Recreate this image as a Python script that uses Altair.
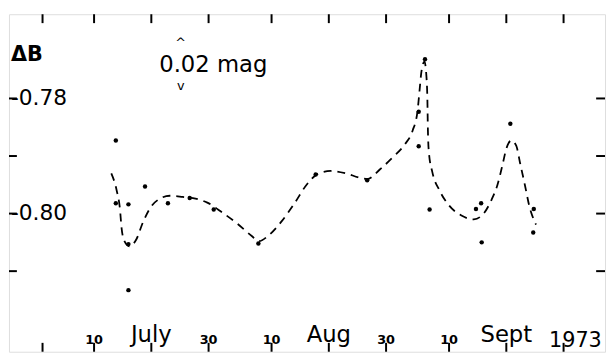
import altair as alt
import pandas as pd

# Observations: day counted from 30 June 1973 (1 July = 1), Delta B magnitude
obs_day = [13.8, 13.8, 16.0, 18.9, 16.0, 16.0, 22.9, 26.7, 30.9, 38.7, 48.7, 57.7,
           67.8, 66.7, 66.7, 68.6, 76.7, 77.6, 77.7, 82.7, 86.8, 86.7]
obs_db = [-0.7873, -0.7982, -0.7984, -0.7953, -0.8053, -0.8133, -0.7982, -0.7973,
          -0.7993, -0.8052, -0.7932, -0.7942, -0.7732, -0.7823, -0.7883, -0.7993,
          -0.7992, -0.7982, -0.8050, -0.7844, -0.7992, -0.8033]

# Hand-drawn dashed curve
curve_day = [13.01, 13.93, 14.53, 14.79, 15.31, 16.17, 17.37, 18.58, 19.96, 21.51,
             23.23, 25.47, 27.71, 29.78, 32.37, 34.95, 37.54, 38.75, 40.47, 42.71,
             44.95, 47.19, 49.09, 51.33, 53.91, 56.50, 57.70, 59.95, 62.19, 64.25,
             65.63, 66.49, 66.84, 67.18, 67.70, 68.05, 68.22, 68.30, 68.48, 69.08,
             70.29, 72.01, 74.08, 76.32, 78.04, 79.42, 80.46, 81.32, 82.01, 82.87,
             83.73, 84.42, 85.28, 85.97, 87.18]
curve_db = [-0.7930, -0.7959, -0.7993, -0.8024, -0.8048, -0.8057, -0.8045, -0.8014,
            -0.7988, -0.7974, -0.7969, -0.7971, -0.7974, -0.7981, -0.7998, -0.8017,
            -0.8039, -0.8048, -0.8038, -0.8014, -0.7983, -0.7949, -0.7931, -0.7926,
            -0.7930, -0.7938, -0.7940, -0.7923, -0.7902, -0.7880, -0.7856, -0.7822,
            -0.7787, -0.7753, -0.7736, -0.7762, -0.7805, -0.7853, -0.7894, -0.7928,
            -0.7959, -0.7986, -0.8003, -0.8010, -0.8000, -0.7976, -0.7950, -0.7916,
            -0.7887, -0.7873, -0.7882, -0.7913, -0.7952, -0.7985, -0.8019]

x_ticks = [1, 10, 20, 30, 41, 51, 61, 72, 82, 92]
y_ticks = [-0.81, -0.80, -0.79, -0.78]

x_label_day = [10, 20, 30, 41, 51, 61, 72, 82]
x_label_text = ["10", "July", "30", "10", "Aug", "30", "10", "Sept"]
x_label_big = [False, True, False, False, True, False, False, True]

y_label_val = [-0.78, -0.80]
y_label_text = ["-0.78", "-0.80"]

FONT = "DejaVu Sans"
W, H = 604, 342

xs = alt.Scale(domain=[-4.86, 99.24], nice=False, zero=False)
ys = alt.Scale(domain=[-0.8240, -0.76537], nice=False, zero=False)

obs = pd.DataFrame({"day": obs_day, "db": obs_db})
curve = pd.DataFrame({"day": curve_day, "db": curve_db, "order": list(range(len(curve_day)))})
xt = pd.DataFrame({"day": x_ticks})
yt = pd.DataFrame({"db": y_ticks})
xl = pd.DataFrame({"day": x_label_day, "text": x_label_text, "big": x_label_big})
yl = pd.DataFrame({"db": y_label_val, "text": y_label_text})

X = lambda: alt.X("day:Q", scale=xs, axis=None)
Y = lambda: alt.Y("db:Q", scale=ys, axis=None)

line = alt.Chart(curve).mark_line(
    color="black", strokeWidth=1.8, strokeDash=[8, 6], interpolate="monotone"
).encode(x=X(), y=Y(), order="order:Q")

pts = alt.Chart(obs).mark_circle(color="black", opacity=1, size=20).encode(x=X(), y=Y())

tick_top = alt.Chart(xt).mark_rule(color="black", strokeWidth=2).encode(
    x=X(), y=alt.value(0), y2=alt.value(9))
tick_bot = alt.Chart(xt).mark_rule(color="black", strokeWidth=2).encode(
    x=X(), y=alt.value(H - 9), y2=alt.value(H))
tick_left = alt.Chart(yt).mark_rule(color="black", strokeWidth=2).encode(
    y=Y(), x=alt.value(0), x2=alt.value(8))
tick_right = alt.Chart(yt).mark_rule(color="black", strokeWidth=2).encode(
    y=Y(), x=alt.value(W - 9), x2=alt.value(W))

xlab_small = alt.Chart(xl).transform_filter("!datum.big").mark_text(
    font=FONT, fontSize=13, fontWeight="bold", baseline="alphabetic", align="center", color="black"
).encode(x=X(), y=alt.value(334), text="text:N")
xlab_big = alt.Chart(xl).transform_filter("datum.big").mark_text(
    font=FONT, fontSize=23, baseline="alphabetic", align="center", color="black"
).encode(x=X(), y=alt.value(332), text="text:N")
year = alt.Chart(xl).transform_filter("datum.text == 'July'").mark_text(
    font=FONT, fontSize=21, baseline="alphabetic", align="center", color="black", text="1973"
).encode(x=alt.value(574), y=alt.value(337))

ylab = alt.Chart(yl).mark_text(
    font=FONT, fontSize=22, baseline="middle", align="left", color="black"
).encode(x=alt.value(2), y=Y(), text="text:N")

dB = alt.Chart(yl).transform_filter("datum.text == '-0.78'").mark_text(
    font=FONT, fontSize=21, fontWeight="bold", baseline="middle", align="left", color="black", text="ΔB"
).encode(x=alt.value(2), y=alt.value(41))

mag = alt.Chart(yl).transform_filter("datum.text == '-0.78'").mark_text(
    font=FONT, fontSize=23, baseline="alphabetic", align="center", color="black", text="0.02 mag"
).encode(x=alt.value(207), y=alt.value(59))
hat_up = alt.Chart(yl).transform_filter("datum.text == '-0.78'").mark_text(
    font=FONT, fontSize=13, baseline="middle", align="center", color="black", text="^"
).encode(x=alt.value(174), y=alt.value(29))
hat_dn = alt.Chart(yl).transform_filter("datum.text == '-0.78'").mark_text(
    font=FONT, fontSize=13, baseline="middle", align="center", color="black", text="v"
).encode(x=alt.value(174), y=alt.value(73))

chart = alt.layer(
    line, pts, tick_top, tick_bot, tick_left, tick_right,
    xlab_small, xlab_big, year, ylab, dB, mag, hat_up, hat_dn
).properties(
    width=W, height=H, autosize=alt.AutoSizeParams(type="none"),
    padding={"left": 1, "top": 4, "right": 2, "bottom": 2}
).configure_view(stroke="black", strokeWidth=2.5).configure(background="white")

chart.save("out.html", embed_options={"renderer": "svg", "actions": False})
